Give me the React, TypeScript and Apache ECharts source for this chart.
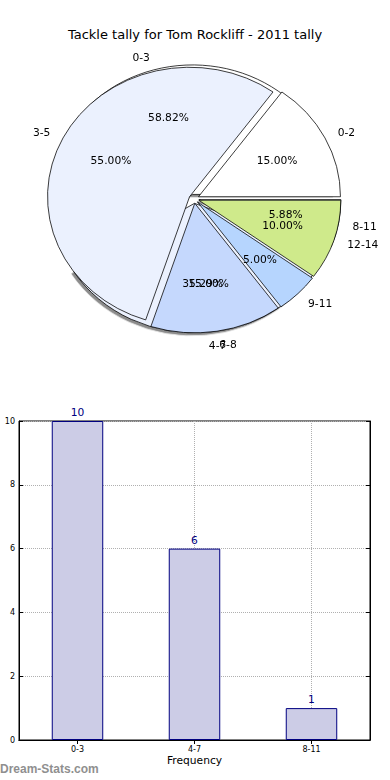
import React, { useEffect, useRef } from 'react';
import * as echarts from 'echarts';

const titleText = 'Tackle tally for Tom Rockliff - 2011 tally';
const fineCategories = ['0-2', '3-5', '6-8', '9-11', '12-14'];
const fineValues = [3, 11, 3, 1, 2];
const fineColors = ['#ffffff', '#ebf1fe', '#c5d8fd', '#b6d5fe', '#cfea8b'];
const coarseCategories = ['0-3', '4-7', '8-11'];
const coarseValues = [10, 6, 1];
const coarseColors = ['#ffffff', '#ebf1fe', '#c5d8fd'];
const yAxisName = 'Number of Matches';
const xAxisName = 'Frequency';
const watermark = 'Dream-Stats.com';

const FONT = 'DejaVu Sans';
const R = 142;
const CX = 194;
const CY = 218;
const SCALE_Y = 0.912;
const OFFSET = 5;

function wedgeSeries(names: string[], values: number[], colors: string[], z: number, shadow: boolean) {
  return {
    type: 'pie',
    z,
    center: [CX, CY],
    radius: [0, R],
    startAngle: 0,
    clockwise: false,
    selectedMode: 'multiple',
    selectedOffset: OFFSET,
    avoidLabelOverlap: false,
    label: { show: false },
    labelLine: { show: false },
    emphasis: { disabled: true },
    itemStyle: shadow
      ? { borderColor: '#000', borderWidth: 0.8, shadowColor: 'rgba(0,0,0,0.45)', shadowBlur: 1, shadowOffsetX: -2, shadowOffsetY: 2.5 }
      : { borderColor: '#000', borderWidth: 0.8 },
    data: names.map((n, i) => ({ name: n, value: values[i], selected: true, itemStyle: { color: colors[i] } })),
  };
}

function labelSeries(names: string[], values: number[], z: number, kind: 'pct' | 'name') {
  const total = values.reduce((a, b) => a + b, 0);
  return {
    type: 'pie',
    z,
    silent: true,
    center: [CX, CY],
    radius: kind === 'pct' ? [0.2 * R, R] : [0, R],
    startAngle: 0,
    clockwise: false,
    selectedMode: 'multiple',
    selectedOffset: OFFSET,
    avoidLabelOverlap: false,
    labelLayout: { hideOverlap: false },
    itemStyle: { color: 'rgba(0,0,0,0)', borderWidth: 0 },
    emphasis: { disabled: true },
    label:
      kind === 'pct'
        ? {
            show: true,
            position: 'inside',
            formatter: (p: any) => ((p.value / total) * 100).toFixed(2) + '%',
            color: '#000',
            fontSize: 10.7,
            fontFamily: FONT,
          }
        : {
            show: true,
            position: 'outside',
            formatter: '{b}',
            color: '#000',
            fontSize: 10.7,
            fontFamily: FONT,
            distanceToLabelLine: 0,
          },
    labelLine: { show: false, length: 0.1 * R, length2: 0 },
    data: names.map((n, i) => ({ name: n, value: values[i], selected: true })),
  };
}

export default function App() {
  const pieRef = useRef<HTMLDivElement>(null);
  const barRef = useRef<HTMLDivElement>(null);

  useEffect(() => {
    const pie = echarts.init(pieRef.current!, undefined, { renderer: 'svg' });
    pie.setOption({
      animation: false,
      series: [
        wedgeSeries(coarseCategories, coarseValues, coarseColors, 1, true),
        wedgeSeries(fineCategories, fineValues, fineColors, 2, false),
        labelSeries(fineCategories, fineValues, 3, 'name'),
        labelSeries(fineCategories, fineValues, 3, 'pct'),
        labelSeries(coarseCategories, coarseValues, 4, 'name'),
        labelSeries(coarseCategories, coarseValues, 4, 'pct'),
      ],
    });

    const bar = echarts.init(barRef.current!, undefined, { renderer: 'svg' });
    const gridCats = coarseCategories.flatMap((c) => ['', c]).concat(['']);
    const tickStyle = { color: '#000', width: 1 };
    bar.setOption({
      animation: false,
      title: {
        text: titleText,
        left: 'center',
        top: 23,
        textStyle: { fontSize: 13, fontWeight: 'normal', color: '#000', fontFamily: FONT },
      },
      graphic: [
        {
          type: 'text',
          left: 0,
          top: 763,
          style: { text: watermark, font: '12px "DejaVu Sans"', fontWeight: 'bold', fill: '#8f8f8f' },
        },
      ],
      grid: {
        left: 19,
        right: 20,
        top: 421,
        bottom: 40,
        show: true,
        borderColor: '#000',
        borderWidth: 1,
        containLabel: false,
        outerBoundsMode: 'none',
      },
      xAxis: [
        {
          type: 'category',
          data: coarseCategories,
          position: 'bottom',
          axisLine: { lineStyle: tickStyle },
          axisTick: { show: true, inside: true, alignWithLabel: true, length: 4, lineStyle: tickStyle },
          axisLabel: { fontSize: 8, color: '#000', margin: 5, fontFamily: FONT },
          splitLine: { show: false },
          name: xAxisName,
          nameLocation: 'middle',
          nameGap: 15,
          nameTextStyle: { fontSize: 10.7, color: '#000', fontFamily: FONT },
        },
        {
          type: 'category',
          data: coarseCategories,
          position: 'top',
          axisLine: { lineStyle: tickStyle },
          axisTick: { show: true, inside: true, alignWithLabel: true, length: 4, lineStyle: tickStyle },
          axisLabel: { show: false },
          splitLine: { show: false },
        },
        {
          type: 'category',
          data: gridCats,
          boundaryGap: false,
          position: 'bottom',
          axisLine: { show: false },
          axisTick: { show: false },
          axisLabel: { show: false },
          splitLine: {
            show: true,
            interval: (i: number) => i % 2 === 1,
            lineStyle: { type: 'dotted', color: '#b0b0b0', width: 1 },
          },
        },
      ],
      yAxis: [
        {
          type: 'value',
          min: 0,
          max: 10,
          interval: 2,
          position: 'left',
          axisLine: { show: true, lineStyle: tickStyle },
          axisTick: { show: true, inside: true, length: 4, lineStyle: tickStyle },
          axisLabel: { fontSize: 8, color: '#000', margin: 4, fontFamily: FONT },
          splitLine: { show: true, lineStyle: { type: 'dotted', color: '#b0b0b0', width: 1 } },
          name: yAxisName,
          nameLocation: 'middle',
          nameGap: 19,
          nameTextStyle: { fontSize: 10.7, color: '#000', fontFamily: FONT },
        },
        {
          type: 'value',
          min: 0,
          max: 10,
          interval: 2,
          position: 'right',
          axisLine: { show: true, lineStyle: tickStyle },
          axisTick: { show: true, inside: true, length: 4, lineStyle: tickStyle },
          axisLabel: { show: false },
          splitLine: { show: false },
        },
      ],
      series: [
        {
          type: 'bar',
          xAxisIndex: 0,
          yAxisIndex: 0,
          data: coarseValues,
          barWidth: '44%',
          itemStyle: { color: '#cccce6', borderColor: '#000080', borderWidth: 1 },
          label: { show: true, position: 'top', distance: 3, color: '#000080', fontSize: 10.7, fontFamily: FONT },
          emphasis: { disabled: true },
        },
      ],
    });

    return () => {
      pie.dispose();
      bar.dispose();
    };
  }, []);

  return (
    <>
      <div ref={barRef} style={{ position: 'absolute', left: 0, top: 0, width: 390, height: 780 }} />
      <div
        ref={pieRef}
        style={{
          position: 'absolute',
          left: 0,
          top: 0,
          width: 390,
          height: 440,
          transform: `scaleY(${SCALE_Y})`,
          transformOrigin: 'top left',
        }}
      />
    </>
  );
}
